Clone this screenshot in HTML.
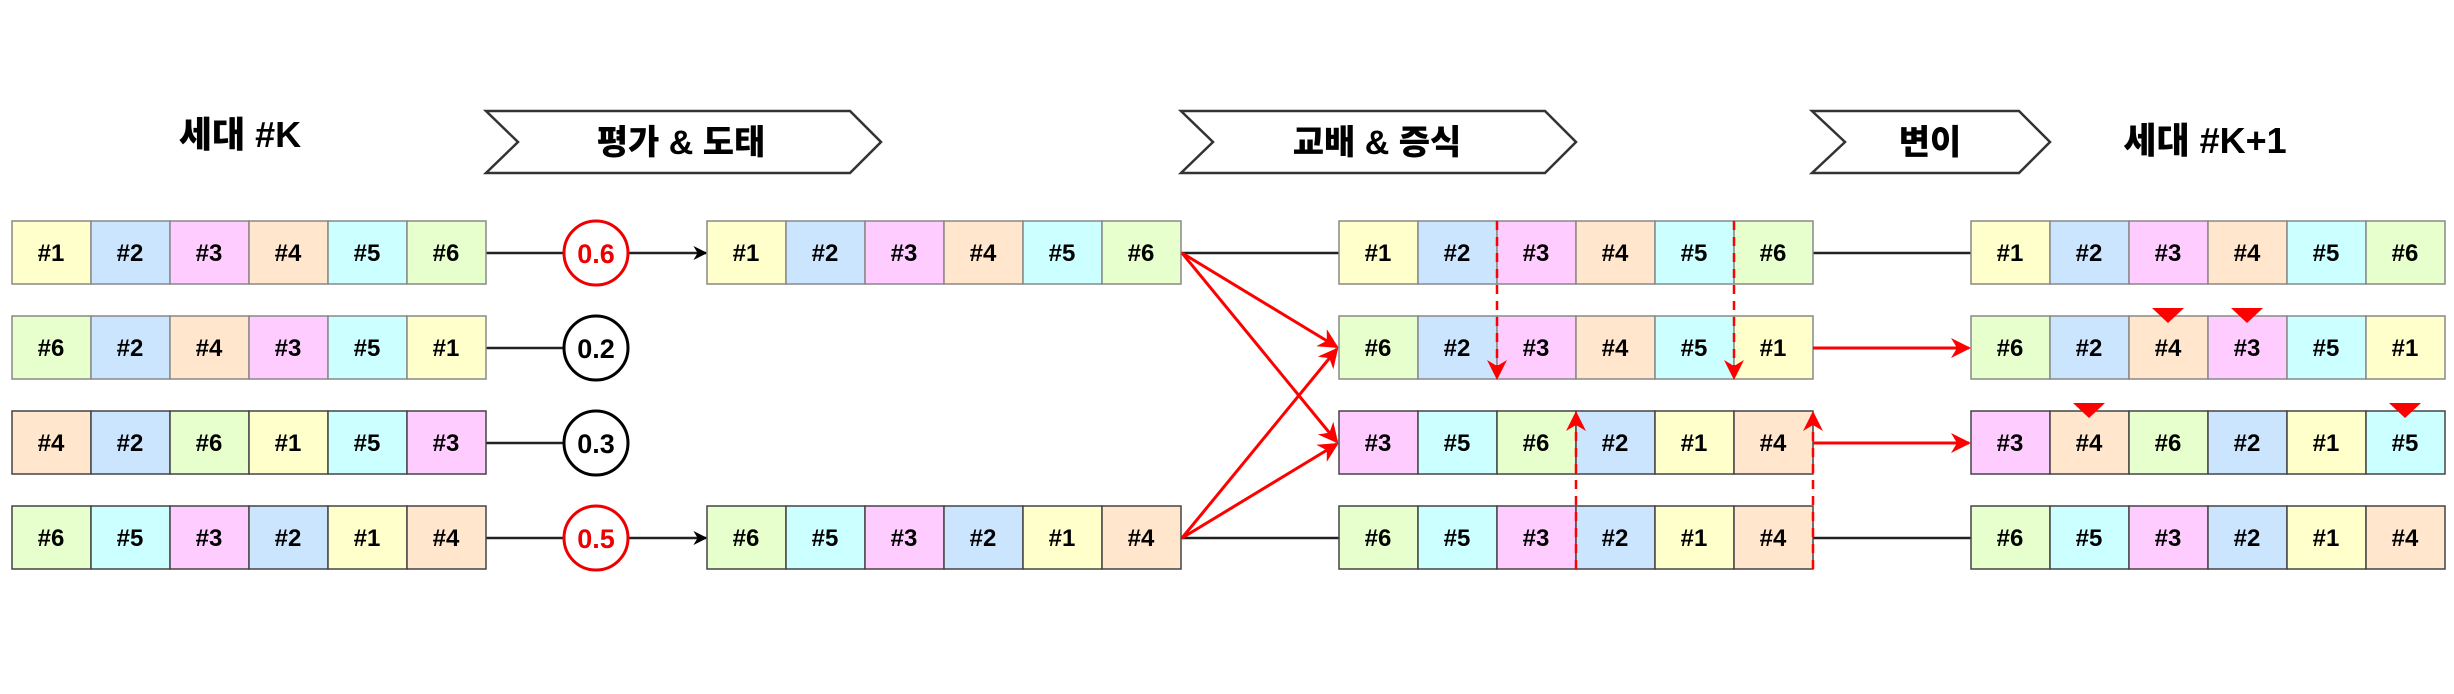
<!DOCTYPE html>
<html><head><meta charset="utf-8"><style>
html,body{margin:0;padding:0;background:#fff;}
svg{display:block;}
</style></head><body>
<svg width="2454" height="694" viewBox="0 0 2454 694" xmlns="http://www.w3.org/2000/svg">
<defs>
<marker id="ab" viewBox="0 0 10 10" refX="9" refY="5" markerWidth="14" markerHeight="14" markerUnits="userSpaceOnUse" orient="auto"><path d="M0,0 L10,5 L0,10 L3,5 Z" fill="#000"/></marker>
<marker id="ar2" viewBox="0 0 10 10" refX="9" refY="5" markerWidth="20" markerHeight="20" markerUnits="userSpaceOnUse" orient="auto"><path d="M0,0 L10,5 L0,10 L3,5 Z" fill="#f00"/></marker>
</defs>
<g style="font-family:'Liberation Sans','Noto Sans CJK KR',sans-serif;font-weight:900;" text-anchor="middle">
<text x="240" y="147" font-size="36">세대 #K</text>
<text x="2205" y="153" font-size="36">세대 #K+1</text>
<polygon points="486,111 850,111 881,142 850,173 486,173 518,142" fill="#fff" stroke="#333" stroke-width="2.5"/>
<text x="681" y="154" font-size="34">평가 &amp; 도태</text>
<polygon points="1181,111 1545,111 1576,142 1545,173 1181,173 1213,142" fill="#fff" stroke="#333" stroke-width="2.5"/>
<text x="1377" y="154" font-size="34">교배 &amp; 증식</text>
<polygon points="1812,111 2019,111 2050,142 2019,173 1812,173 1845,142" fill="#fff" stroke="#333" stroke-width="2.5"/>
<text x="1930" y="154" font-size="34">변이</text>

<g stroke="#222" stroke-width="2.5" fill="none">
<line x1="486" y1="253" x2="563" y2="253"/>
<line x1="486" y1="348" x2="563" y2="348"/>
<line x1="486" y1="443" x2="563" y2="443"/>
<line x1="486" y1="538" x2="563" y2="538"/>
<line x1="629" y1="253" x2="706" y2="253" marker-end="url(#ab)"/>
<line x1="629" y1="538" x2="706" y2="538" marker-end="url(#ab)"/>
<line x1="1181" y1="253" x2="1339" y2="253"/>
<line x1="1181" y1="538" x2="1339" y2="538"/>
<line x1="1813" y1="253" x2="1971" y2="253"/>
<line x1="1813" y1="538" x2="1971" y2="538"/>
</g>
<g stroke-width="3" fill="#fff">
<circle cx="596" cy="253" r="32" stroke="#e00"/>
<circle cx="596" cy="348" r="32" stroke="#000"/>
<circle cx="596" cy="443" r="32" stroke="#000"/>
<circle cx="596" cy="538" r="32" stroke="#e00"/>
</g>
<g font-size="27" style="font-weight:bold">
<text x="596" y="263" fill="#e00">0.6</text>
<text x="596" y="358">0.2</text>
<text x="596" y="453">0.3</text>
<text x="596" y="548" fill="#e00">0.5</text>
</g>
</g>

<g style="font-family:'Liberation Sans',sans-serif;font-weight:bold;" font-size="24" text-anchor="middle">
<g stroke="#888" stroke-width="1.5">
<rect x="12" y="221" width="79" height="63" fill="#ffffcc"/><rect x="91" y="221" width="79" height="63" fill="#cce5ff"/><rect x="170" y="221" width="79" height="63" fill="#ffccff"/><rect x="249" y="221" width="79" height="63" fill="#ffe6cc"/><rect x="328" y="221" width="79" height="63" fill="#ccffff"/><rect x="407" y="221" width="79" height="63" fill="#e6ffcc"/>
<rect x="12" y="316" width="79" height="63" fill="#e6ffcc"/><rect x="91" y="316" width="79" height="63" fill="#cce5ff"/><rect x="170" y="316" width="79" height="63" fill="#ffe6cc"/><rect x="249" y="316" width="79" height="63" fill="#ffccff"/><rect x="328" y="316" width="79" height="63" fill="#ccffff"/><rect x="407" y="316" width="79" height="63" fill="#ffffcc"/>
</g>
<g stroke="#444" stroke-width="1.5">
<rect x="12" y="411" width="79" height="63" fill="#ffe6cc"/><rect x="91" y="411" width="79" height="63" fill="#cce5ff"/><rect x="170" y="411" width="79" height="63" fill="#e6ffcc"/><rect x="249" y="411" width="79" height="63" fill="#ffffcc"/><rect x="328" y="411" width="79" height="63" fill="#ccffff"/><rect x="407" y="411" width="79" height="63" fill="#ffccff"/>
<rect x="12" y="506" width="79" height="63" fill="#e6ffcc"/><rect x="91" y="506" width="79" height="63" fill="#ccffff"/><rect x="170" y="506" width="79" height="63" fill="#ffccff"/><rect x="249" y="506" width="79" height="63" fill="#cce5ff"/><rect x="328" y="506" width="79" height="63" fill="#ffffcc"/><rect x="407" y="506" width="79" height="63" fill="#ffe6cc"/>
</g>
<text x="51" y="261">#1</text><text x="130" y="261">#2</text><text x="209" y="261">#3</text><text x="288" y="261">#4</text><text x="367" y="261">#5</text><text x="446" y="261">#6</text>
<text x="51" y="356">#6</text><text x="130" y="356">#2</text><text x="209" y="356">#4</text><text x="288" y="356">#3</text><text x="367" y="356">#5</text><text x="446" y="356">#1</text>
<text x="51" y="451">#4</text><text x="130" y="451">#2</text><text x="209" y="451">#6</text><text x="288" y="451">#1</text><text x="367" y="451">#5</text><text x="446" y="451">#3</text>
<text x="51" y="546">#6</text><text x="130" y="546">#5</text><text x="209" y="546">#3</text><text x="288" y="546">#2</text><text x="367" y="546">#1</text><text x="446" y="546">#4</text>

<g stroke="#888" stroke-width="1.5">
<rect x="707" y="221" width="79" height="63" fill="#ffffcc"/><rect x="786" y="221" width="79" height="63" fill="#cce5ff"/><rect x="865" y="221" width="79" height="63" fill="#ffccff"/><rect x="944" y="221" width="79" height="63" fill="#ffe6cc"/><rect x="1023" y="221" width="79" height="63" fill="#ccffff"/><rect x="1102" y="221" width="79" height="63" fill="#e6ffcc"/>
</g>
<g stroke="#444" stroke-width="1.5">
<rect x="707" y="506" width="79" height="63" fill="#e6ffcc"/><rect x="786" y="506" width="79" height="63" fill="#ccffff"/><rect x="865" y="506" width="79" height="63" fill="#ffccff"/><rect x="944" y="506" width="79" height="63" fill="#cce5ff"/><rect x="1023" y="506" width="79" height="63" fill="#ffffcc"/><rect x="1102" y="506" width="79" height="63" fill="#ffe6cc"/>
</g>
<text x="746" y="261">#1</text><text x="825" y="261">#2</text><text x="904" y="261">#3</text><text x="983" y="261">#4</text><text x="1062" y="261">#5</text><text x="1141" y="261">#6</text>
<text x="746" y="546">#6</text><text x="825" y="546">#5</text><text x="904" y="546">#3</text><text x="983" y="546">#2</text><text x="1062" y="546">#1</text><text x="1141" y="546">#4</text>

<g stroke="#888" stroke-width="1.5">
<rect x="1339" y="221" width="79" height="63" fill="#ffffcc"/><rect x="1418" y="221" width="79" height="63" fill="#cce5ff"/><rect x="1497" y="221" width="79" height="63" fill="#ffccff"/><rect x="1576" y="221" width="79" height="63" fill="#ffe6cc"/><rect x="1655" y="221" width="79" height="63" fill="#ccffff"/><rect x="1734" y="221" width="79" height="63" fill="#e6ffcc"/>
<rect x="1339" y="316" width="79" height="63" fill="#e6ffcc"/><rect x="1418" y="316" width="79" height="63" fill="#cce5ff"/><rect x="1497" y="316" width="79" height="63" fill="#ffccff"/><rect x="1576" y="316" width="79" height="63" fill="#ffe6cc"/><rect x="1655" y="316" width="79" height="63" fill="#ccffff"/><rect x="1734" y="316" width="79" height="63" fill="#ffffcc"/>
</g>
<g stroke="#444" stroke-width="1.5">
<rect x="1339" y="411" width="79" height="63" fill="#ffccff"/><rect x="1418" y="411" width="79" height="63" fill="#ccffff"/><rect x="1497" y="411" width="79" height="63" fill="#e6ffcc"/><rect x="1576" y="411" width="79" height="63" fill="#cce5ff"/><rect x="1655" y="411" width="79" height="63" fill="#ffffcc"/><rect x="1734" y="411" width="79" height="63" fill="#ffe6cc"/>
<rect x="1339" y="506" width="79" height="63" fill="#e6ffcc"/><rect x="1418" y="506" width="79" height="63" fill="#ccffff"/><rect x="1497" y="506" width="79" height="63" fill="#ffccff"/><rect x="1576" y="506" width="79" height="63" fill="#cce5ff"/><rect x="1655" y="506" width="79" height="63" fill="#ffffcc"/><rect x="1734" y="506" width="79" height="63" fill="#ffe6cc"/>
</g>
<text x="1378" y="261">#1</text><text x="1457" y="261">#2</text><text x="1536" y="261">#3</text><text x="1615" y="261">#4</text><text x="1694" y="261">#5</text><text x="1773" y="261">#6</text>
<text x="1378" y="356">#6</text><text x="1457" y="356">#2</text><text x="1536" y="356">#3</text><text x="1615" y="356">#4</text><text x="1694" y="356">#5</text><text x="1773" y="356">#1</text>
<text x="1378" y="451">#3</text><text x="1457" y="451">#5</text><text x="1536" y="451">#6</text><text x="1615" y="451">#2</text><text x="1694" y="451">#1</text><text x="1773" y="451">#4</text>
<text x="1378" y="546">#6</text><text x="1457" y="546">#5</text><text x="1536" y="546">#3</text><text x="1615" y="546">#2</text><text x="1694" y="546">#1</text><text x="1773" y="546">#4</text>

<g stroke="#888" stroke-width="1.5">
<rect x="1971" y="221" width="79" height="63" fill="#ffffcc"/><rect x="2050" y="221" width="79" height="63" fill="#cce5ff"/><rect x="2129" y="221" width="79" height="63" fill="#ffccff"/><rect x="2208" y="221" width="79" height="63" fill="#ffe6cc"/><rect x="2287" y="221" width="79" height="63" fill="#ccffff"/><rect x="2366" y="221" width="79" height="63" fill="#e6ffcc"/>
<rect x="1971" y="316" width="79" height="63" fill="#e6ffcc"/><rect x="2050" y="316" width="79" height="63" fill="#cce5ff"/><rect x="2129" y="316" width="79" height="63" fill="#ffe6cc"/><rect x="2208" y="316" width="79" height="63" fill="#ffccff"/><rect x="2287" y="316" width="79" height="63" fill="#ccffff"/><rect x="2366" y="316" width="79" height="63" fill="#ffffcc"/>
</g>
<g stroke="#444" stroke-width="1.5">
<rect x="1971" y="411" width="79" height="63" fill="#ffccff"/><rect x="2050" y="411" width="79" height="63" fill="#ffe6cc"/><rect x="2129" y="411" width="79" height="63" fill="#e6ffcc"/><rect x="2208" y="411" width="79" height="63" fill="#cce5ff"/><rect x="2287" y="411" width="79" height="63" fill="#ffffcc"/><rect x="2366" y="411" width="79" height="63" fill="#ccffff"/>
<rect x="1971" y="506" width="79" height="63" fill="#e6ffcc"/><rect x="2050" y="506" width="79" height="63" fill="#ccffff"/><rect x="2129" y="506" width="79" height="63" fill="#ffccff"/><rect x="2208" y="506" width="79" height="63" fill="#cce5ff"/><rect x="2287" y="506" width="79" height="63" fill="#ffffcc"/><rect x="2366" y="506" width="79" height="63" fill="#ffe6cc"/>
</g>
<text x="2010" y="261">#1</text><text x="2089" y="261">#2</text><text x="2168" y="261">#3</text><text x="2247" y="261">#4</text><text x="2326" y="261">#5</text><text x="2405" y="261">#6</text>
<text x="2010" y="356">#6</text><text x="2089" y="356">#2</text><text x="2168" y="356">#4</text><text x="2247" y="356">#3</text><text x="2326" y="356">#5</text><text x="2405" y="356">#1</text>
<text x="2010" y="451">#3</text><text x="2089" y="451">#4</text><text x="2168" y="451">#6</text><text x="2247" y="451">#2</text><text x="2326" y="451">#1</text><text x="2405" y="451">#5</text>
<text x="2010" y="546">#6</text><text x="2089" y="546">#5</text><text x="2168" y="546">#3</text><text x="2247" y="546">#2</text><text x="2326" y="546">#1</text><text x="2405" y="546">#4</text>
</g>

<g stroke="#f00" stroke-width="3" fill="none">
<line x1="1182" y1="253" x2="1337" y2="347" marker-end="url(#ar2)"/>
<line x1="1182" y1="253" x2="1337" y2="442" marker-end="url(#ar2)"/>
<line x1="1182" y1="538" x2="1337" y2="349" marker-end="url(#ar2)"/>
<line x1="1182" y1="538" x2="1337" y2="444" marker-end="url(#ar2)"/>
<line x1="1813" y1="348" x2="1969" y2="348" marker-end="url(#ar2)"/>
<line x1="1813" y1="443" x2="1969" y2="443" marker-end="url(#ar2)"/>
</g>
<g stroke="#f00" stroke-width="2.5" fill="none" stroke-dasharray="9,7">
<line x1="1497" y1="221" x2="1497" y2="378" marker-end="url(#ar2)"/>
<line x1="1734" y1="221" x2="1734" y2="378" marker-end="url(#ar2)"/>
<line x1="1576" y1="569" x2="1576" y2="413" marker-end="url(#ar2)"/>
<line x1="1813" y1="569" x2="1813" y2="413" marker-end="url(#ar2)"/>
</g>
<g fill="#f00">
<polygon points="2152,308 2184,308 2168,323"/>
<polygon points="2231,308 2263,308 2247,323"/>
<polygon points="2073,403 2105,403 2089,418"/>
<polygon points="2389,403 2421,403 2405,418"/>
</g>
</svg>
</body></html>
